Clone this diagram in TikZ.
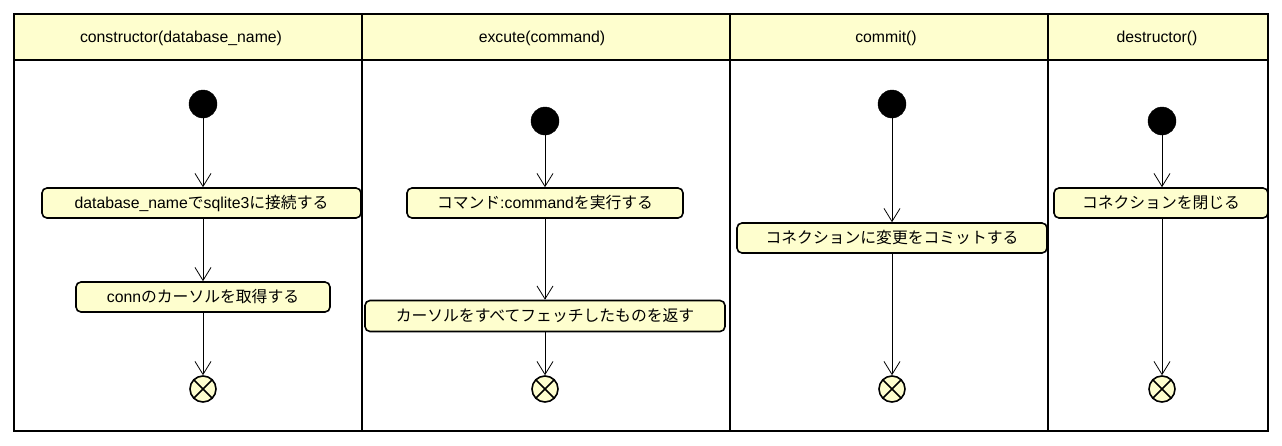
\documentclass[tikz,border=0pt]{standalone}
\usepackage{fontspec}
\setmainfont{Liberation Sans}
\newfontfamily\jp{Noto Sans CJK JP}
\usetikzlibrary{arrows.meta}
\definecolor{umlyellow}{HTML}{FEFECE}
\tikzset{
  lane/.style={draw=black, line width=1.6pt},
  header/.style={font=\fontsize{15.8}{18}\selectfont, anchor=center, inner sep=0pt},
  startnode/.style={circle, fill=black, draw=black, minimum size=28pt, inner sep=0pt},
  endnode/.style={circle, fill=umlyellow, draw=black, line width=1.6pt, minimum size=26pt, inner sep=0pt,
    path picture={\draw[line width=1.6pt] (path picture bounding box.north west)--(path picture bounding box.south east)
      (path picture bounding box.north east)--(path picture bounding box.south west);}},
  action/.style={draw=black, fill=umlyellow, line width=1.6pt, rounded corners=5pt, minimum height=30pt,
    inner sep=0pt, font=\fontsize{15.8}{18}\selectfont},
  flow/.style={draw=black, line width=0.8pt, -{Straight Barb[length=13pt,width=16pt,line width=0.8pt]}},
  flowplain/.style={draw=black, line width=0.8pt}
}
\begin{document}
\begin{tikzpicture}[x=1pt,y=-1pt]
\useasboundingbox (0,0) rectangle (1282,445);
% header fill
\fill[umlyellow] (14,14) rectangle (1268,60);
% frame and lanes
\draw[lane] (14,14) rectangle (1268,431);
\draw[lane] (14,60) -- (1268,60);
\draw[lane] (362,14) -- (362,431);
\draw[lane] (730,14) -- (730,431);
\draw[lane] (1048,14) -- (1048,431);
% headers
\node[header] (h1) at (181,38) {constructor(database\_name)};
\node[header] (h2) at (542,38) {excute(command)};
\node[header] (h3) at (886,38) {commit()};
\node[header] (h4) at (1157,38) {destructor()};

% lane 1
\node[startnode] (s1) at (203,104) {};
\node[action, minimum width=319pt] (a11) at (201.5,203) {database\_name{\jp で}sqlite3{\jp に接続する}};
\node[action, minimum width=254pt] (a12) at (203,297) {conn{\jp のカーソルを取得する}};
\node[endnode] (e1) at (203,389) {};
\draw[flow] (s1) -- (s1 |- a11.north);
\draw[flow] (s1 |- a11.south) -- (s1 |- a12.north);
\draw[flow] (s1 |- a12.south) -- (e1);

% lane 2
\node[startnode] (s2) at (545,121) {};
\node[action, minimum width=276pt] (a21) at (545,203) {{\jp コマンド}:command{\jp を実行する}};
\node[action, minimum width=360pt, minimum height=31pt] (a22) at (545,316) {\jp カーソルをすべてフェッチしたものを返す};
\node[endnode] (e2) at (545,389) {};
\draw[flow] (s2) -- (s2 |- a21.north);
\draw[flow] (s2 |- a21.south) -- (s2 |- a22.north);
\draw[flow] (s2 |- a22.south) -- (e2);

% lane 3
\node[startnode] (s3) at (892,104) {};
\node[action, minimum width=310pt] (a31) at (892,238) {\jp コネクションに変更をコミットする};
\node[endnode] (e3) at (892,389) {};
\draw[flow] (s3) -- (s3 |- a31.north);
\draw[flow] (s3 |- a31.south) -- (e3);

% lane 4
\node[startnode] (s4) at (1162,121) {};
\node[action, minimum width=214pt] (a41) at (1161,203) {\jp コネクションを閉じる};
\node[endnode] (e4) at (1162,389) {};
\draw[flow] (s4) -- (s4 |- a41.north);
\draw[flow] (s4 |- a41.south) -- (e4);
\end{tikzpicture}
\end{document}
